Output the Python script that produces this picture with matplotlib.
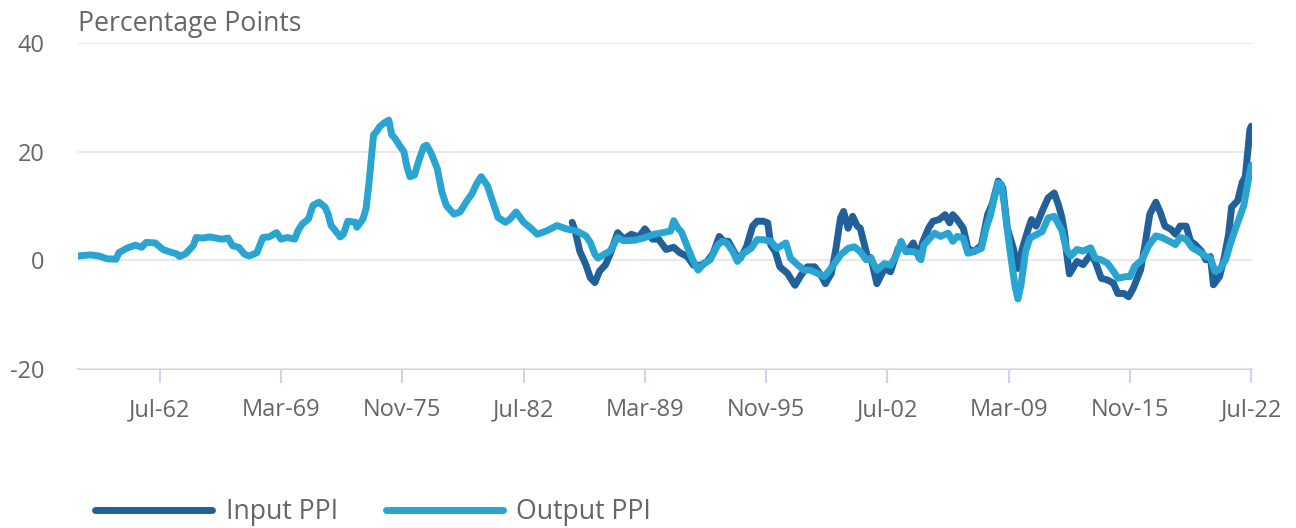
import matplotlib
matplotlib.use("Agg")
import matplotlib.pyplot as plt
import pandas as pd

# values (percentage points)
output_dates = ["1958-01", "1958-09", "1959-03", "1959-08", "1960-02", "1960-04", "1960-09", "1961-03",
                "1961-07", "1961-10", "1962-04", "1962-09", "1963-01", "1963-06", "1963-08", "1963-12",
                "1964-05", "1964-07", "1964-11", "1965-04", "1965-08", "1965-12", "1966-04", "1966-07",
                "1966-11", "1967-03", "1967-06", "1967-11", "1968-03", "1968-07", "1968-12", "1969-03",
                "1969-07", "1969-12", "1970-02", "1970-05", "1970-09", "1970-12", "1971-04", "1971-08",
                "1971-10", "1971-12", "1972-03", "1972-06", "1972-08", "1972-11", "1973-04", "1973-05",
                "1973-09", "1973-11", "1974-01", "1974-04", "1974-06", "1974-08", "1974-11", "1975-02",
                "1975-04", "1975-06", "1975-09", "1975-12", "1976-02", "1976-04", "1976-07", "1976-10",
                "1977-01", "1977-03", "1977-06", "1977-10", "1978-01", "1978-04", "1978-09", "1979-01",
                "1979-05", "1979-09", "1979-12", "1980-03", "1980-07", "1980-11", "1981-02", "1981-07",
                "1981-10", "1982-02", "1982-07", "1982-11", "1983-04", "1983-10", "1984-05", "1984-11",
                "1985-06", "1985-12", "1986-03", "1986-06", "1986-08", "1986-12", "1987-04", "1987-09",
                "1988-01", "1988-08", "1989-02", "1989-09", "1990-03", "1990-08", "1990-10", "1991-01",
                "1991-03", "1991-07", "1991-11", "1992-02", "1992-06", "1992-10", "1993-03", "1993-06",
                "1993-09", "1994-01", "1994-04", "1994-08", "1995-01", "1995-05", "1995-09", "1996-02",
                "1996-06", "1996-12", "1997-03", "1997-08", "1997-12", "1998-04", "1998-09", "1999-01",
                "1999-04", "1999-08", "1999-12", "2000-05", "2000-09", "2001-01", "2001-05", "2001-08",
                "2001-12", "2002-05", "2002-09", "2003-01", "2003-04", "2003-07", "2003-12", "2004-03",
                "2004-05", "2004-07", "2004-11", "2005-02", "2005-06", "2005-11", "2006-02", "2006-05",
                "2006-09", "2006-12", "2007-04", "2007-09", "2007-12", "2008-03", "2008-05", "2008-08",
                "2008-10", "2008-12", "2009-03", "2009-07", "2009-09", "2009-11", "2010-02", "2010-05",
                "2010-09", "2011-01", "2011-05", "2011-09", "2012-02", "2012-05", "2012-08", "2012-12",
                "2013-04", "2013-09", "2013-12", "2014-04", "2014-08", "2014-12", "2015-03", "2015-08",
                "2015-11", "2016-02", "2016-07", "2016-11", "2017-04", "2017-08", "2018-01", "2018-05",
                "2018-08", "2018-12", "2019-04", "2019-08", "2020-01", "2020-04", "2020-07", "2020-10",
                "2021-02", "2021-05", "2021-08", "2021-12", "2022-02", "2022-05", "2022-07"]
output_ppi = [0.8, 1.0, 0.8, 0.3, 0.2, 1.4, 2.2, 2.8,
              2.4, 3.3, 3.2, 2.0, 1.6, 1.2, 0.7, 1.2,
              2.7, 4.2, 4.1, 4.3, 4.1, 3.9, 4.1, 2.7,
              2.4, 1.1, 0.8, 1.4, 4.2, 4.3, 5.1, 3.9,
              4.2, 3.9, 5.4, 6.7, 7.6, 10.1, 10.7, 9.8,
              8.5, 6.4, 5.4, 4.3, 4.8, 7.2, 7.0, 6.1,
              7.6, 9.5, 14.4, 23.1, 23.7, 24.6, 25.3, 25.8,
              23.1, 22.5, 21.2, 20.0, 17.2, 15.4, 15.7, 18.5,
              20.9, 21.2, 19.7, 16.9, 12.6, 10.1, 8.5, 8.9,
              10.7, 12.3, 14.1, 15.4, 13.8, 10.4, 7.9, 7.0,
              7.6, 8.9, 7.0, 6.1, 4.8, 5.4, 6.4, 5.8,
              5.4, 4.5, 3.3, 1.1, 0.4, 1.1, 1.7, 4.2,
              3.6, 3.7, 4.1, 4.8, 5.1, 5.4, 7.3, 5.8,
              5.3, 2.5, -0.2, -1.8, -0.6, 0.1, 2.8, 3.5,
              3.2, 1.6, -0.2, 1.3, 2.2, 3.8, 3.8, 3.5,
              2.2, 3.2, 0.4, -0.9, -1.8, -1.8, -2.4, -3.0,
              -2.1, -0.6, 1.0, 2.2, 2.5, 1.6, 0.1, 0.4,
              -1.8, -0.6, -0.9, 1.0, 3.5, 1.6, 1.6, 1.3,
              0.1, 2.8, 4.1, 5.0, 4.4, 5.0, 3.5, 4.4,
              4.1, 1.3, 1.6, 2.2, 5.9, 8.4, 10.9, 14.3,
              14.0, 10.3, 3.5, -4.6, -7.1, -4.6, 1.6, 4.1,
              4.7, 5.3, 7.8, 8.1, 5.5, 2.0, 0.8, 2.0,
              1.7, 2.3, 0.4, 0.1, -0.5, -2.0, -3.3, -3.0,
              -3.0, -1.1, 0.1, 2.6, 4.5, 4.2, 3.5, 2.9,
              4.2, 3.9, 2.3, 1.7, 0.7, 0.4, -2.0, -1.7,
              0.1, 2.9, 5.4, 8.5, 10.1, 14.7, 17.5]

input_dates = ["1985-03", "1985-05", "1985-08", "1985-12", "1986-03", "1986-06", "1986-09", "1987-01",
               "1987-04", "1987-09", "1988-01", "1988-06", "1988-11", "1989-03", "1989-08", "1989-12",
               "1990-05", "1990-10", "1991-02", "1991-07", "1991-11", "1992-04", "1992-08", "1992-12",
               "1993-04", "1993-07", "1993-10", "1994-03", "1994-06", "1994-10", "1995-02", "1995-05",
               "1995-09", "1995-12", "1996-02", "1996-05", "1996-08", "1997-01", "1997-04", "1997-06",
               "1997-10", "1998-02", "1998-07", "1998-11", "1999-02", "1999-06", "1999-09", "1999-12",
               "2000-02", "2000-05", "2000-08", "2000-11", "2001-01", "2001-06", "2001-08", "2001-12",
               "2002-05", "2002-09", "2003-02", "2003-05", "2003-08", "2003-12", "2004-04", "2004-06",
               "2004-10", "2005-01", "2005-05", "2005-09", "2005-12", "2006-02", "2006-05", "2006-09",
               "2006-12", "2007-04", "2007-09", "2008-01", "2008-04", "2008-08", "2008-11", "2009-02",
               "2009-06", "2009-09", "2009-12", "2010-04", "2010-06", "2010-09", "2011-02", "2011-05",
               "2011-09", "2011-12", "2012-02", "2012-04", "2012-05", "2012-07", "2012-12", "2013-04",
               "2013-09", "2013-12", "2014-04", "2014-08", "2014-12", "2015-03", "2015-07", "2015-10",
               "2016-01", "2016-06", "2016-09", "2016-12", "2017-04", "2017-07", "2017-10", "2018-02",
               "2018-05", "2018-08", "2018-12", "2019-03", "2019-06", "2019-10", "2020-01", "2020-04",
               "2020-06", "2020-10", "2021-01", "2021-04", "2021-06", "2021-10", "2022-01", "2022-03",
               "2022-05", "2022-06", "2022-07"]
input_ppi = [7.0, 5.4, 1.7, -0.8, -3.2, -4.1, -2.0, -0.8,
             1.1, 5.1, 3.9, 4.8, 4.3, 5.8, 3.9, 3.9,
             2.0, 2.4, 1.4, 0.7, -0.9, -0.9, -0.2, 1.3,
             4.4, 3.5, 3.5, 1.0, 0.4, 2.5, 6.3, 7.2,
             7.2, 6.9, 2.8, 1.6, -1.2, -2.4, -3.7, -4.6,
             -2.7, -1.2, -1.2, -2.7, -4.3, -2.4, 2.2, 7.8,
             9.0, 5.9, 8.1, 6.3, 5.9, 0.4, 0.5, -4.3,
             -1.5, -2.1, 2.2, 2.5, 1.6, 3.2, 0.4, 3.2,
             5.9, 7.2, 7.5, 8.4, 6.9, 8.4, 7.5, 5.9,
             2.2, 1.6, 2.8, 8.4, 10.3, 14.6, 13.4, 5.9,
             2.2, -1.5, 2.2, 5.9, 7.5, 6.3, 9.7, 11.5,
             12.4, 10.0, 7.9, 4.7, 1.7, -2.5, -0.2, -0.8,
             1.1, -0.2, -3.3, -3.6, -4.2, -6.1, -6.1, -6.7,
             -5.2, -1.7, 3.2, 8.5, 10.7, 8.8, 6.3, 5.7,
             4.8, 6.3, 6.3, 3.5, 2.9, 1.7, 0.1, 0.7,
             -4.5, -3.0, 0.4, 4.8, 9.8, 11.0, 14.4, 15.3,
             20.9, 24.0, 24.7]

tick_dates = ["1962-07", "1969-03", "1975-11", "1982-07", "1989-03", "1995-11",
              "2002-07", "2009-03", "2015-11", "2022-07"]
tick_labels = ["Jul-62", "Mar-69", "Nov-75", "Jul-82", "Mar-89", "Nov-95",
               "Jul-02", "Mar-09", "Nov-15", "Jul-22"]

input_color = "#22609a"
output_color = "#2aa4d0"
text_color = "#666666"

plt.rcParams['font.family'] = ['Open Sans', 'DejaVu Sans']

fig = plt.figure(figsize=(12.96, 5.28), dpi=100)
ax = fig.add_axes([78 / 1296, 1 - 369 / 528, (1252 - 78) / 1296, (369 - 43) / 528])

ax.plot(pd.to_datetime(input_dates), input_ppi, color=input_color, lw=5,
        solid_joinstyle="round", solid_capstyle="round", label="Input PPI", zorder=3)
ax.plot(pd.to_datetime(output_dates), output_ppi, color=output_color, lw=5,
        solid_joinstyle="round", solid_capstyle="round", label="Output PPI", zorder=4)

ax.set_ylim(-20, 40)
ax.set_yticks([-20, 0, 20, 40])
ax.set_yticklabels(["-20", "0", "20", "40"])
ax.set_xlim(pd.Timestamp("1958-01-01"), pd.Timestamp("2022-07-15"))
ax.set_xticks(pd.to_datetime(tick_dates))
ax.set_xticklabels(tick_labels)

ax.grid(axis="y", color="#e6e6e6", lw=1.3)
ax.set_axisbelow(True)
for s in ["top", "right", "left"]:
    ax.spines[s].set_visible(False)
ax.spines["bottom"].set_color("#ccd6eb")
ax.spines["bottom"].set_linewidth(1.5)
ax.spines["bottom"].set_zorder(0)

ax.tick_params(axis="x", colors="#ccd6eb", length=10, width=1.5, labelcolor=text_color,
               labelsize=17, pad=11)
ax.tick_params(axis="y", length=0, labelcolor=text_color, labelsize=17, pad=24)

fig.text(78 / 1296, 1 - 24 / 528, "Percentage Points", color=text_color, fontsize=19.2,
         va="center", ha="left")

fig.legend(loc="center left", bbox_to_anchor=(95 / 1296, 1 - 512 / 528), ncol=2, frameon=False,
           fontsize=19.2, handlelength=4.4, handletextpad=0.5, columnspacing=1.8,
           labelcolor=text_color, borderpad=0, borderaxespad=0)

fig.savefig("out.png", dpi=100)
